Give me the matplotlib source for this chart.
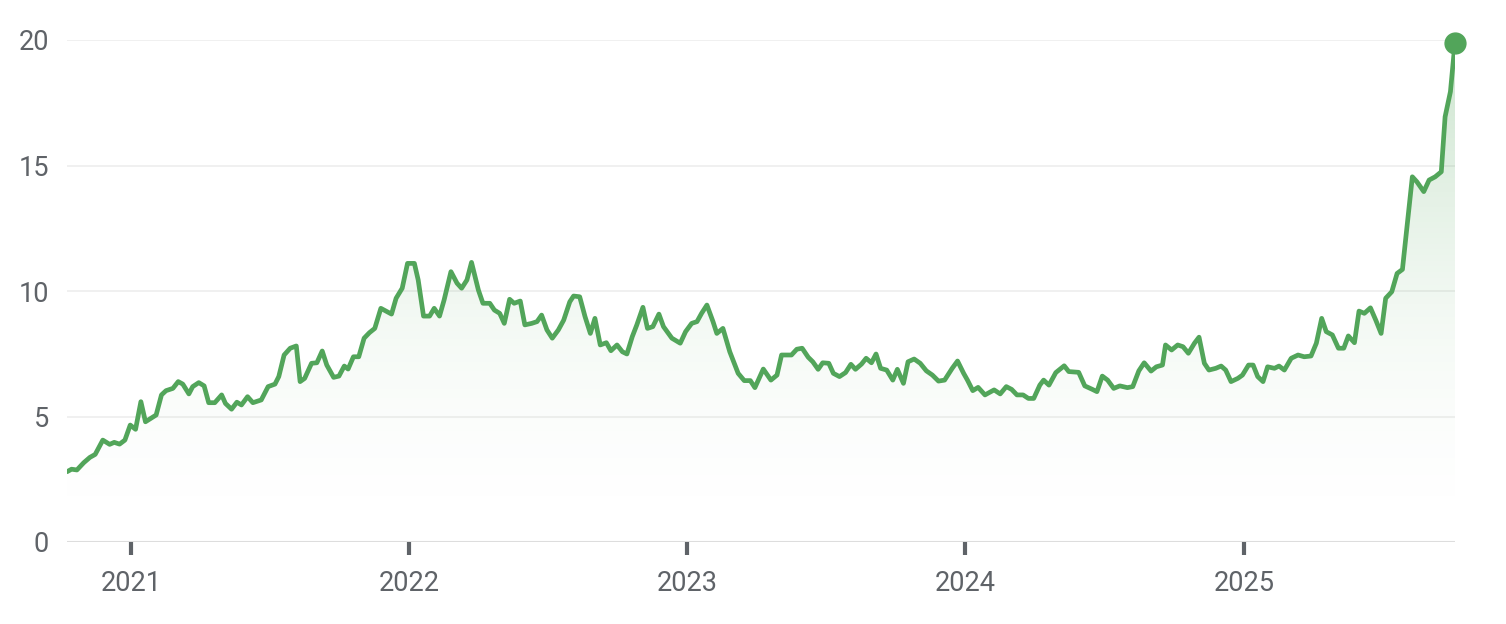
import numpy as np
import pandas as pd
import matplotlib
matplotlib.use("Agg")
import matplotlib.pyplot as plt
import matplotlib.dates as mdates
from matplotlib.colors import LinearSegmentedColormap

dates = [
    "2020-10-09", "2020-10-15", "2020-10-22", "2020-10-31", "2020-11-08", "2020-11-15",
    "2020-11-25", "2020-12-04", "2020-12-10", "2020-12-17", "2020-12-24", "2020-12-31",
    "2021-01-07", "2021-01-14", "2021-01-20", "2021-02-03", "2021-02-10", "2021-02-16",
    "2021-02-25", "2021-03-04", "2021-03-10", "2021-03-18", "2021-03-23", "2021-03-31",
    "2021-04-07", "2021-04-13", "2021-04-21", "2021-04-30", "2021-05-05", "2021-05-13",
    "2021-05-20", "2021-05-26", "2021-06-03", "2021-06-10", "2021-06-21", "2021-06-30",
    "2021-07-09", "2021-07-14", "2021-07-21", "2021-07-29", "2021-08-06", "2021-08-11",
    "2021-08-17", "2021-08-26", "2021-09-02", "2021-09-09", "2021-09-15", "2021-09-24",
    "2021-10-01", "2021-10-08", "2021-10-13", "2021-10-20", "2021-10-27", "2021-11-03",
    "2021-11-10", "2021-11-17", "2021-11-25", "2021-12-03", "2021-12-09", "2021-12-15",
    "2021-12-23", "2021-12-30", "2022-01-08", "2022-01-13", "2022-01-20", "2022-01-28",
    "2022-02-03", "2022-02-10", "2022-02-16", "2022-02-25", "2022-03-05", "2022-03-11",
    "2022-03-18", "2022-03-24", "2022-04-02", "2022-04-08", "2022-04-17", "2022-04-23",
    "2022-04-30", "2022-05-06", "2022-05-13", "2022-05-19", "2022-05-27", "2022-06-02",
    "2022-06-11", "2022-06-18", "2022-06-24", "2022-07-01", "2022-07-08", "2022-07-16",
    "2022-07-23", "2022-07-31", "2022-08-05", "2022-08-13", "2022-08-20", "2022-08-27",
    "2022-09-02", "2022-09-09", "2022-09-17", "2022-09-23", "2022-10-01", "2022-10-08",
    "2022-10-14", "2022-10-21", "2022-10-27", "2022-11-04", "2022-11-10", "2022-11-17",
    "2022-11-25", "2022-12-01", "2022-12-12", "2022-12-23", "2022-12-30", "2023-01-07",
    "2023-01-14", "2023-01-20", "2023-01-27", "2023-02-04", "2023-02-09", "2023-02-17",
    "2023-02-26", "2023-03-09", "2023-03-17", "2023-03-25", "2023-03-31", "2023-04-11",
    "2023-04-21", "2023-04-29", "2023-05-05", "2023-05-18", "2023-05-25", "2023-06-01",
    "2023-06-09", "2023-06-15", "2023-06-22", "2023-06-28", "2023-07-06", "2023-07-12",
    "2023-07-20", "2023-07-28", "2023-08-04", "2023-08-10", "2023-08-18", "2023-08-24",
    "2023-08-31", "2023-09-06", "2023-09-12", "2023-09-20", "2023-09-28", "2023-10-04",
    "2023-10-12", "2023-10-18", "2023-10-26", "2023-11-03", "2023-11-11", "2023-11-19",
    "2023-11-27", "2023-12-05", "2023-12-15", "2023-12-22", "2023-12-30", "2024-01-04",
    "2024-01-11", "2024-01-18", "2024-01-27", "2024-02-08", "2024-02-16", "2024-02-24",
    "2024-03-02", "2024-03-09", "2024-03-17", "2024-03-24", "2024-03-31", "2024-04-08",
    "2024-04-13", "2024-04-20", "2024-04-29", "2024-05-10", "2024-05-16", "2024-05-29",
    "2024-06-06", "2024-06-16", "2024-06-22", "2024-06-29", "2024-07-06", "2024-07-14",
    "2024-07-22", "2024-08-01", "2024-08-08", "2024-08-16", "2024-08-23", "2024-09-01",
    "2024-09-08", "2024-09-16", "2024-09-20", "2024-09-28", "2024-10-06", "2024-10-13",
    "2024-10-20", "2024-10-28", "2024-11-03", "2024-11-10", "2024-11-16", "2024-11-25",
    "2024-12-02", "2024-12-08", "2024-12-15", "2024-12-24", "2024-12-30", "2025-01-07",
    "2025-01-13", "2025-01-19", "2025-01-26", "2025-02-01", "2025-02-10", "2025-02-16",
    "2025-02-23", "2025-03-04", "2025-03-13", "2025-03-21", "2025-03-30", "2025-04-06",
    "2025-04-13", "2025-04-19", "2025-04-27", "2025-05-05", "2025-05-12", "2025-05-18",
    "2025-05-26", "2025-06-01", "2025-06-08", "2025-06-16", "2025-06-23", "2025-06-30",
    "2025-07-06", "2025-07-14", "2025-07-21", "2025-07-28", "2025-08-10", "2025-08-16",
    "2025-08-25", "2025-09-01", "2025-09-09", "2025-09-17", "2025-09-22", "2025-09-29",
    "2025-10-05",
]

values = [
    2.80, 2.90, 2.87, 3.16, 3.37, 3.49, 4.06, 3.89, 3.97, 3.90, 4.06, 4.66,
    4.49, 5.59, 4.79, 5.06, 5.86, 6.03, 6.12, 6.39, 6.29, 5.90, 6.19, 6.35,
    6.22, 5.55, 5.55, 5.86, 5.52, 5.29, 5.57, 5.46, 5.79, 5.55, 5.66, 6.19,
    6.29, 6.59, 7.45, 7.72, 7.81, 6.39, 6.52, 7.12, 7.14, 7.61, 7.05, 6.56,
    6.61, 7.01, 6.89, 7.38, 7.38, 8.12, 8.34, 8.51, 9.31, 9.18, 9.08, 9.71,
    10.11, 11.10, 11.10, 10.44, 9.00, 9.00, 9.31, 9.00, 9.64, 10.77, 10.31, 10.11,
    10.44, 11.14, 10.04, 9.51, 9.51, 9.24, 9.11, 8.71, 9.67, 9.51, 9.60, 8.65,
    8.71, 8.78, 9.04, 8.45, 8.12, 8.45, 8.84, 9.57, 9.80, 9.77, 8.98, 8.31,
    8.91, 7.85, 7.94, 7.62, 7.85, 7.58, 7.49, 8.18, 8.65, 9.35, 8.51, 8.58,
    9.08, 8.58, 8.12, 7.92, 8.38, 8.71, 8.78, 9.11, 9.44, 8.78, 8.31, 8.51,
    7.58, 6.72, 6.43, 6.43, 6.15, 6.89, 6.45, 6.65, 7.45, 7.45, 7.68, 7.72,
    7.36, 7.18, 6.88, 7.14, 7.12, 6.72, 6.59, 6.75, 7.08, 6.88, 7.09, 7.32,
    7.14, 7.49, 6.92, 6.85, 6.45, 6.88, 6.32, 7.18, 7.29, 7.12, 6.82, 6.65,
    6.41, 6.45, 6.92, 7.21, 6.72, 6.45, 6.03, 6.16, 5.86, 6.06, 5.90, 6.19,
    6.08, 5.86, 5.86, 5.72, 5.72, 6.25, 6.45, 6.25, 6.75, 7.02, 6.79, 6.76,
    6.22, 6.08, 5.99, 6.61, 6.45, 6.12, 6.22, 6.15, 6.19, 6.82, 7.14, 6.81,
    6.98, 7.05, 7.85, 7.65, 7.85, 7.78, 7.52, 7.92, 8.16, 7.12, 6.85, 6.92,
    7.01, 6.85, 6.39, 6.52, 6.65, 7.05, 7.05, 6.59, 6.39, 6.98, 6.92, 7.01,
    6.85, 7.32, 7.45, 7.38, 7.41, 7.92, 8.91, 8.38, 8.25, 7.72, 7.72, 8.21,
    7.94, 9.20, 9.11, 9.33, 8.84, 8.31, 9.71, 9.97, 10.70, 10.86, 14.55, 14.35,
    13.96, 14.42, 14.55, 14.75, 16.94, 17.94, 19.89,
]

y_ticks = [0, 5, 10, 15, 20]
x_ticks = ["2021-01-01", "2022-01-01", "2023-01-01", "2024-01-01", "2025-01-01"]
x_labels = ["2021", "2022", "2023", "2024", "2025"]

green = "#52a55a"
text_grey = "#5f6368"

x = mdates.date2num(pd.to_datetime(dates))
y = np.array(values)

fig = plt.figure(figsize=(15.06, 6.24), dpi=100)
ax = fig.add_axes([67 / 1506, 1 - 542 / 624, (1455 - 67) / 1506, (542 - 40) / 624])

ax.set_xlim(x[0], x[-1])
ax.set_ylim(0, 20)

# gradient fill under the line, fading towards the baseline
t = np.linspace(0, 1, 256)
cols = np.zeros((256, 4))
cols[:, 0], cols[:, 1], cols[:, 2] = 0.32, 0.65, 0.35
cols[:, 3] = 0.30 * t ** 1.8
cmap = LinearSegmentedColormap.from_list("g", cols)
grad = t.reshape(-1, 1)
im = ax.imshow(grad, cmap=cmap, aspect="auto", origin="lower",
               extent=[x[0], x[-1], 0, 20], zorder=1, interpolation="bilinear")
poly = ax.fill_between(x, y, 0, color="none")
im.set_clip_path(poly.get_paths()[0], transform=ax.transData)

ax.plot(x, y, color=green, lw=3.4, zorder=3, solid_joinstyle="round",
        solid_capstyle="round")
ax.plot(x[-1], y[-1], "o", color=green, ms=15, zorder=4, clip_on=False)

for tk in y_ticks[1:]:
    ax.axhline(tk, color="#eeeeee", lw=1.2, zorder=0)
ax.axhline(0, color="#dddddd", lw=1.5, zorder=0)

for s in ax.spines.values():
    s.set_visible(False)

ax.set_yticks(y_ticks)
ax.set_yticklabels([str(v) for v in y_ticks])
ax.tick_params(axis="y", length=0, pad=13, labelsize=19.5, labelcolor=text_grey)

ax.set_xticks(mdates.date2num(pd.to_datetime(x_ticks)))
ax.set_xticklabels(x_labels)
ax.tick_params(axis="x", length=9, width=3, color="#5f6368", pad=11,
               labelsize=19.5, labelcolor=text_grey)

for lab in ax.get_yticklabels() + ax.get_xticklabels():
    lab.set_fontfamily("Roboto")

fig.savefig("out.png", dpi=100, facecolor="white")
